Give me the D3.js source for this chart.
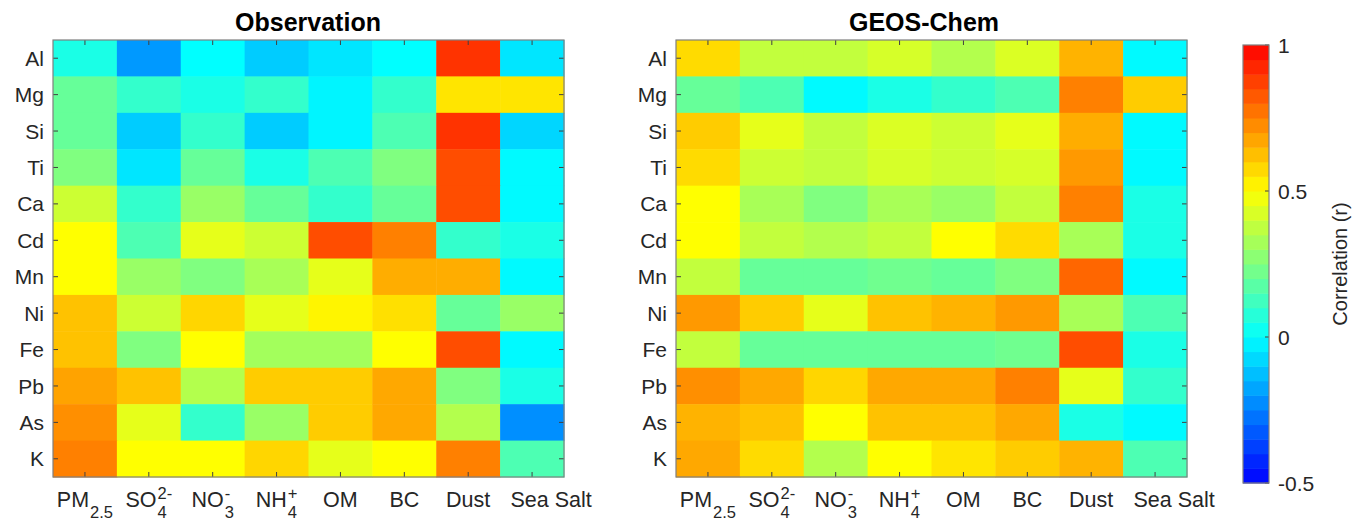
<!DOCTYPE html>
<html>
<head>
<meta charset="utf-8">
<script src="https://cdn.jsdelivr.net/npm/d3@7.9.0/dist/d3.min.js"></script>
<style>
  html, body { margin: 0; padding: 0; background: #fff; }
  svg { display: block; font-family: "Liberation Sans", Arial, Helvetica, sans-serif; }
  text { fill: #262626; }
</style>
</head>
<body>
<svg id="chart" width="1352" height="527"></svg>
<script>
// rows (elements) and columns (species)
const elements = ['Al', 'Mg', 'Si', 'Ti', 'Ca', 'Cd', 'Mn', 'Ni', 'Fe', 'Pb', 'As', 'K'];
const species  = [
  { main: 'PM',  sub: '2.5', sup: null },
  { main: 'SO',  sub: '4',   sup: '2-' },
  { main: 'NO',  sub: '3',   sup: '-'  },
  { main: 'NH',  sub: '4',   sup: '+'  },
  { main: 'OM',  sub: null,  sup: null },
  { main: 'BC',  sub: null,  sup: null },
  { main: 'Dust', sub: null, sup: null },
  { main: 'Sea Salt', sub: null, sup: null }
];

// correlation (r), one row per element, columns as species
const obsValues = [
  [0.05, -0.20, 0.00, -0.10, -0.05, 0.00, 0.90, -0.05],
  [0.20,  0.10, 0.05,  0.10, -0.02, 0.10, 0.55,  0.55],
  [0.20, -0.10, 0.10, -0.10, -0.02, 0.15, 0.90, -0.08],
  [0.25, -0.05, 0.20,  0.05,  0.15, 0.25, 0.85, -0.01],
  [0.40,  0.10, 0.30,  0.20,  0.10, 0.20, 0.85, -0.01],
  [0.50,  0.15, 0.45,  0.40,  0.85, 0.75, 0.10,  0.05],
  [0.50,  0.30, 0.25,  0.33,  0.45, 0.66, 0.66, -0.01],
  [0.62,  0.40, 0.58,  0.45,  0.52, 0.56, 0.20,  0.30],
  [0.62,  0.25, 0.50,  0.32,  0.32, 0.50, 0.85, -0.01],
  [0.68,  0.62, 0.35,  0.60,  0.60, 0.67, 0.25,  0.05],
  [0.72,  0.45, 0.10,  0.30,  0.60, 0.67, 0.35, -0.22],
  [0.75,  0.50, 0.50,  0.58,  0.45, 0.50, 0.75,  0.15]
];

const geosValues = [
  [0.57, 0.38, 0.38, 0.42, 0.35, 0.43, 0.65, -0.01],
  [0.20, 0.15, -0.01, 0.05, 0.10, 0.15, 0.75, 0.60],
  [0.60, 0.45, 0.38, 0.43, 0.40, 0.45, 0.66, -0.01],
  [0.57, 0.40, 0.38, 0.42, 0.40, 0.42, 0.70, -0.01],
  [0.50, 0.33, 0.25, 0.33, 0.30, 0.38, 0.75, 0.05],
  [0.50, 0.38, 0.35, 0.38, 0.50, 0.57, 0.33, 0.05],
  [0.38, 0.20, 0.20, 0.22, 0.20, 0.25, 0.80, -0.01],
  [0.70, 0.60, 0.45, 0.62, 0.65, 0.70, 0.33, 0.15],
  [0.38, 0.20, 0.20, 0.20, 0.20, 0.22, 0.85, 0.05],
  [0.72, 0.67, 0.58, 0.67, 0.67, 0.75, 0.45, 0.10],
  [0.65, 0.62, 0.50, 0.62, 0.62, 0.67, 0.05, -0.01],
  [0.67, 0.57, 0.35, 0.50, 0.55, 0.60, 0.65, 0.15]
];

const cbTicks = [-0.5, 0, 0.5, 1];
const cbLabel = 'Correlation (r)';

const svg = d3.select('#chart');

const color = d3.scaleLinear()
  .domain([-0.5, 0, 0.5, 1])
  .range(['#0000ff', '#00ffff', '#ffff00', '#ff0000'])
  .clamp(true);

const panels = [
  { title: 'Observation', values: obsValues,  x0: 53,  x1: 564, titleX: 308 },
  { title: 'GEOS-Chem',   values: geosValues, x0: 676, x1: 1187, titleX: 924 }
];
const plotTop = 40, plotBottom = 477;

const y = d3.scaleBand().domain(elements).range([plotTop, plotBottom]);

function drawLabel(g, s){
  const t = g.append('text').attr('font-size', 21.5).text(s.main);
  const w = t.node().getComputedTextLength();
  if (s.sup) g.append('text').attr('x', w + 1).attr('y', -8).attr('font-size', 16.5).text(s.sup);
  if (s.sub) g.append('text').attr('x', w + 1).attr('y', 11).attr('font-size', 16.5).text(s.sub);
  return g.node().getBBox().width;
}

panels.forEach(p => {
  const x = d3.scaleBand().domain(d3.range(species.length)).range([p.x0, p.x1]);
  const g = svg.append('g');

  const cells = p.values.flatMap((row, i) => row.map((v, j) => ({ el: elements[i], j, v })));
  g.selectAll('rect.cell')
    .data(cells)
    .enter().append('rect')
      .attr('class', 'cell')
      .attr('x', d => x(d.j))
      .attr('y', d => y(d.el))
      .attr('width', x.bandwidth() + 0.5)
      .attr('height', y.bandwidth() + 0.5)
      .attr('fill', d => color(d.v));

  // ticks inside the box
  const tk = 5;
  const tickG = g.append('g').attr('stroke', '#404040').attr('stroke-width', 1);
  d3.range(species.length).forEach(j => {
    const cx = x(j) + x.bandwidth() / 2;
    tickG.append('line').attr('x1', cx).attr('x2', cx).attr('y1', plotTop).attr('y2', plotTop + tk);
    tickG.append('line').attr('x1', cx).attr('x2', cx).attr('y1', plotBottom).attr('y2', plotBottom - tk);
  });
  elements.forEach(e => {
    const cy = y(e) + y.bandwidth() / 2;
    tickG.append('line').attr('x1', p.x0).attr('x2', p.x0 + tk).attr('y1', cy).attr('y2', cy);
    tickG.append('line').attr('x1', p.x1).attr('x2', p.x1 - tk).attr('y1', cy).attr('y2', cy);
  });

  g.append('rect')
    .attr('x', p.x0).attr('y', plotTop)
    .attr('width', p.x1 - p.x0).attr('height', plotBottom - plotTop)
    .attr('fill', 'none').attr('stroke', '#7f7f7f').attr('stroke-width', 1.2);

  // y labels
  g.selectAll('text.ylab')
    .data(elements)
    .enter().append('text')
      .attr('class', 'ylab')
      .attr('x', p.x0 - 9)
      .attr('y', d => y(d) + y.bandwidth() / 2)
      .attr('dy', '0.36em')
      .attr('text-anchor', 'end')
      .attr('font-size', 21)
      .text(d => d);

  // x labels
  species.forEach((s, j) => {
    const lg = g.append('g');
    const w = drawLabel(lg, s);
    const shift = j === species.length - 1 ? 19 : 0;
    const cx = x(j) + x.bandwidth() / 2 + shift;
    lg.attr('transform', `translate(${cx - w / 2},${507})`);
  });

  g.append('text')
    .attr('x', p.titleX).attr('y', 31)
    .attr('text-anchor', 'middle')
    .attr('font-size', 25)
    .attr('font-weight', 'bold')
    .style('fill', '#000')
    .text(p.title);
});

// colorbar
const cbX = 1243, cbW = 26, cbTop = 45, cbBottom = 483;
const cbY = d3.scaleLinear().domain([-0.5, 1]).range([cbBottom, cbTop]);
const nBands = 30;
const step = 1.5 / nBands;
const bands = d3.range(nBands).map(k => -0.5 + step * k);
const cb = svg.append('g');
cb.selectAll('rect.band')
  .data(bands)
  .enter().append('rect')
    .attr('class', 'band')
    .attr('x', cbX)
    .attr('y', d => cbY(d + step))
    .attr('width', cbW)
    .attr('height', d => cbY(d) - cbY(d + step) + 0.5)
    .attr('fill', d => color(d + step / 2));
cb.selectAll('line.cbtick')
  .data(cbTicks)
  .enter().append('line')
    .attr('x1', cbX + cbW).attr('x2', cbX + cbW - 4)
    .attr('y1', d => cbY(d)).attr('y2', d => cbY(d))
    .attr('stroke', '#404040');
cb.append('rect')
  .attr('x', cbX).attr('y', cbTop).attr('width', cbW).attr('height', cbBottom - cbTop)
  .attr('fill', 'none').attr('stroke', '#7f7f7f').attr('stroke-width', 1.2);
cb.selectAll('text.cblab')
  .data(cbTicks)
  .enter().append('text')
    .attr('x', cbX + cbW + 9)
    .attr('y', d => cbY(d))
    .attr('dy', '0.36em')
    .attr('font-size', 21)
    .text(d => String(d));
cb.append('text')
  .attr('transform', `translate(1347,${(cbTop + cbBottom) / 2}) rotate(-90)`)
  .attr('text-anchor', 'middle')
  .attr('font-size', 20)
  .text(cbLabel);
</script>
</body>
</html>
